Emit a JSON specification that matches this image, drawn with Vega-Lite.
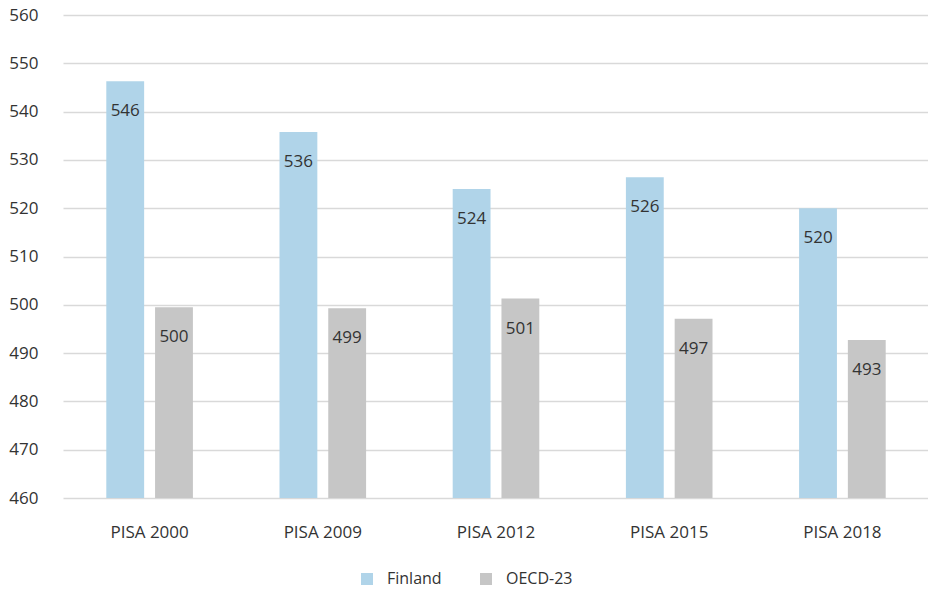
{
  "$schema": "https://vega.github.io/schema/vega-lite/v6.json",
  "autosize": {"type": "none"},
  "padding": {"left": 63, "top": 15, "right": 0, "bottom": 91},
  "width": 866,
  "height": 483,
  "config": {
    "view": {"stroke": null},
    "font": "Open Sans",
    "text": {"font": "Open Sans"}
  },
  "data": {
    "values": [
      {"round": "PISA 2000", "group": "Finland", "score": 546.3, "label": "546"},
      {"round": "PISA 2000", "group": "OECD-23", "score": 499.5, "label": "500"},
      {"round": "PISA 2009", "group": "Finland", "score": 535.8, "label": "536"},
      {"round": "PISA 2009", "group": "OECD-23", "score": 499.3, "label": "499"},
      {"round": "PISA 2012", "group": "Finland", "score": 524.0, "label": "524"},
      {"round": "PISA 2012", "group": "OECD-23", "score": 501.3, "label": "501"},
      {"round": "PISA 2015", "group": "Finland", "score": 526.4, "label": "526"},
      {"round": "PISA 2015", "group": "OECD-23", "score": 497.1, "label": "497"},
      {"round": "PISA 2018", "group": "Finland", "score": 520.0, "label": "520"},
      {"round": "PISA 2018", "group": "OECD-23", "score": 492.7, "label": "493"}
    ]
  },
  "encoding": {
    "x": {
      "field": "round", "type": "nominal", "sort": null,
      "scale": {"paddingInner": 0.5, "paddingOuter": 0.25},
      "axis": {"title": null, "labelAngle": 0, "domain": false, "ticks": false, "labelPadding": 26, "labelFontSize": 17, "labelColor": "#333333", "labelFont": "Open Sans"}
    },
    "xOffset": {"field": "group", "type": "nominal", "scale": {"paddingInner": 0.224, "paddingOuter": 0}},
    "y": {
      "field": "score", "type": "quantitative",
      "scale": {"domain": [460, 560], "nice": false, "zero": false},
      "axis": {"title": null, "values": [460, 470, 480, 490, 500, 510, 520, 530, 540, 550, 560], "domain": false, "ticks": false, "labelPadding": 25, "labelFontSize": 17, "labelColor": "#333333", "gridColor": "#D9D9D9", "gridWidth": 1.5, "labelFont": "Open Sans"}
    }
  },
  "layer": [
    {
      "mark": {"type": "bar", "clip": true},
      "encoding": {
        "y2": {"datum": 460},
        "color": {
          "field": "group", "type": "nominal",
          "scale": {"domain": ["Finland", "OECD-23"], "range": ["#B0D4E9", "#C6C6C6"]},
          "legend": {"title": null, "orient": "none", "direction": "horizontal", "legendX": 296, "legendY": 556, "symbolType": "square", "symbolSize": 144, "symbolStrokeWidth": 0, "labelFontSize": 16, "labelColor": "#333333", "labelFont": "Open Sans", "columnPadding": 36, "labelOffset": 12}
        }
      }
    },
    {
      "mark": {"type": "text", "dy": 30, "baseline": "middle", "fontSize": 17, "color": "#333333"},
      "encoding": {"text": {"field": "label"}}
    }
  ]
}
